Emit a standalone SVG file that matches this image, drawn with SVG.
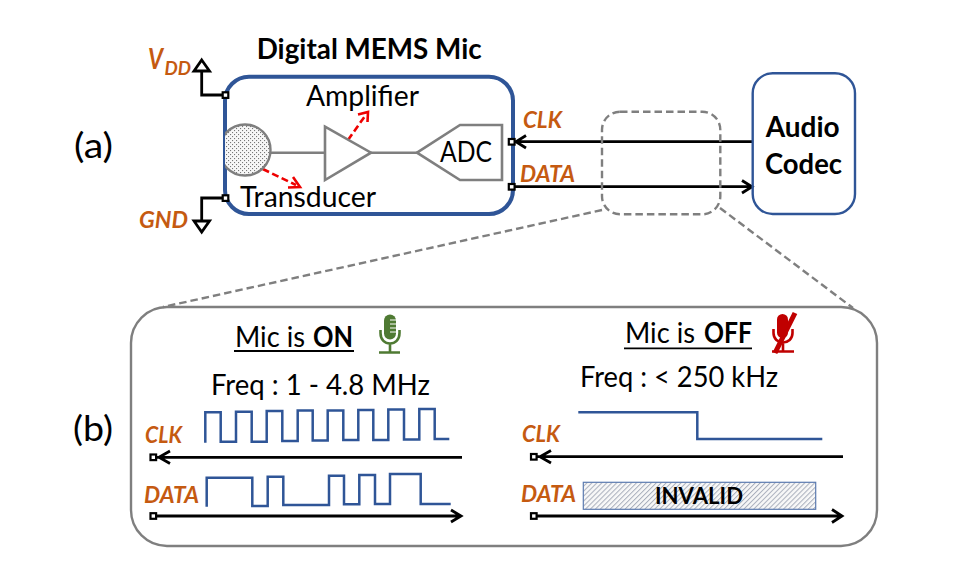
<svg xmlns="http://www.w3.org/2000/svg" width="971" height="565" viewBox="0 0 971 565">
<style>
text{font-family:"Lato","Open Sans","Liberation Sans",sans-serif;fill:#000}
.t{font-size:29px}
.b{font-weight:700}
.o{font-weight:700;font-style:italic;fill:#c55a11;font-size:23px}
.p{font-size:35px}
.g{fill:none;stroke:#7f7f7f;stroke-width:2.6}
.d{fill:none;stroke:#7f7f7f;stroke-width:2.4;stroke-dasharray:7.5 4}
.w{fill:none;stroke:#2f5597;stroke-width:2.5}
.k{fill:none;stroke:#000;stroke-width:2.8}
.r{fill:none;stroke:#ee0000;stroke-width:2.6;stroke-dasharray:7 3.5}
.rh{fill:none;stroke:#ee0000;stroke-width:2.6}
.q{fill:#fff;stroke:#000;stroke-width:2.2}
</style>
<defs>
<pattern id="dots" width="4" height="4" patternUnits="userSpaceOnUse"><rect width="4" height="4" fill="#f7f7f7"/><rect x="0" y="0" width="1.1" height="1.1" fill="#777"/><rect x="2" y="2" width="1.1" height="1.1" fill="#777"/></pattern>
<pattern id="hatch" width="3.5" height="3.5" patternUnits="userSpaceOnUse" patternTransform="rotate(45)"><rect width="3.5" height="3.5" fill="#f8f8f8"/><rect width="1" height="3.5" fill="#a9afbc"/></pattern>
<clipPath id="inbox"><rect x="225" y="76.7" width="288" height="137.3" rx="24"/></clipPath>
</defs>
<rect width="971" height="565" fill="#fff"/>

<g id="connectors">
<path class="d" d="M602 210L163 307"/>
<path class="d" d="M720 208L853 308"/>
<path class="k" d="M225 95H201.7V71"/>
<path class="k" d="M225 198H201.7V221"/>
<path class="k" d="M752 141.7H515M526 135.5L516 141.7L526 148"/>
<path class="k" d="M514 186.7H751M742 180.5L752 186.7L742 193"/>
<path class="g" d="M270.7 152.7H325"/>
<path class="g" d="M371 152.7H417"/>
<path class="r" d="M348 140L365 116"/>
<path class="rh" d="M358 114.5L368 112L367.5 122"/>
<path class="r" d="M262.7 169L296 185"/>
<path class="rh" d="M293 177L300 187L288 187.5"/>
</g>

<g id="vdd-symbol"><path class="k" d="M201.7 60L209.5 71H194Z"/></g>
<g id="gnd-symbol"><path class="k" d="M194 221H209.5L201.7 232Z"/></g>

<g id="mic-box"><rect x="225" y="76.7" width="288" height="137.3" rx="24" fill="none" stroke="#2f5597" stroke-width="4"/>
<text class="t b" x="256.7" y="59.3" textLength="225" lengthAdjust="spacingAndGlyphs">Digital MEMS Mic</text></g>
<g id="transducer"><circle cx="245" cy="150" r="25.5" fill="url(#dots)" stroke="#7f7f7f" stroke-width="2.4" clip-path="url(#inbox)"/>
<text class="t" x="240" y="207" textLength="136" lengthAdjust="spacingAndGlyphs">Transducer</text></g>
<g id="amplifier"><path class="g" d="M325 126.7L371 152.7L325 180Z"/>
<text class="t" x="306" y="106" textLength="113" lengthAdjust="spacingAndGlyphs">Amplifier</text></g>
<g id="adc"><path class="g" d="M417 152.7L460 125H502V180H460Z"/>
<text class="t" x="440" y="161.7" textLength="52" lengthAdjust="spacingAndGlyphs">ADC</text></g>

<g id="ports">
<rect class="q" x="222.7" y="92.3" width="5.6" height="5.6"/>
<rect class="q" x="222.7" y="195.3" width="5.6" height="5.6"/>
<rect class="q" x="508.8" y="139" width="5.8" height="5.6"/>
<rect class="q" x="508.8" y="184" width="5.8" height="5.6"/>
</g>

<g id="labels-a">
<text class="o" x="148" y="69" style="font-size:29px" textLength="15" lengthAdjust="spacingAndGlyphs">V</text>
<text class="o" x="164.5" y="75" style="font-size:19px" textLength="26.5" lengthAdjust="spacingAndGlyphs">DD</text>
<text class="o" x="139" y="228" textLength="49" lengthAdjust="spacingAndGlyphs">GND</text>
<text class="o" x="523" y="128" textLength="39" lengthAdjust="spacingAndGlyphs">CLK</text>
<text class="o" x="520" y="181.7" textLength="55" lengthAdjust="spacingAndGlyphs">DATA</text>
<text class="p" x="74" y="158" textLength="39" lengthAdjust="spacingAndGlyphs">(a)</text>
<text class="p" x="73" y="441" textLength="40" lengthAdjust="spacingAndGlyphs">(b)</text>
</g>

<g id="zoom-region"><rect class="d" x="602" y="111.7" width="118.3" height="102.6" rx="18"/></g>

<g id="audio-codec"><rect x="752.7" y="73.3" width="102.3" height="140.7" rx="20" fill="none" stroke="#2f5597" stroke-width="2.4"/>
<text class="t b" x="765.7" y="136.7" textLength="74" lengthAdjust="spacingAndGlyphs">Audio</text>
<text class="t b" x="765" y="174" textLength="77" lengthAdjust="spacingAndGlyphs">Codec</text></g>

<g id="panel"><rect x="131" y="307" width="746" height="239" rx="36" fill="none" stroke="#7f7f7f" stroke-width="2.4"/></g>

<g id="mic-on">
<text class="t" x="235" y="346.7" textLength="70" lengthAdjust="spacingAndGlyphs">Mic is</text>
<text class="t b" x="313" y="346.7" textLength="40" lengthAdjust="spacingAndGlyphs">ON</text>
<path d="M234 351H354" stroke="#000" stroke-width="1.8"/>
<text class="t" x="211" y="395" textLength="219" lengthAdjust="spacingAndGlyphs">Freq : 1 - 4.8 MHz</text>
<rect x="384" y="314.5" width="12" height="25" rx="6" fill="#4f7a33"/>
<path d="M390 320H396M390 324H396M390 328H396M390 332H396" stroke="#fff" stroke-width="1"/>
<path d="M380.5 330V333C380.5 340 385 343.5 390 343.5S399.5 340 399.5 333V330M390 343V352M379 352.5H400" fill="none" stroke="#4f7a33" stroke-width="2.6"/>
<path class="w" d="M205.3 442.7V412.3H220.7V441.7H236V411.7H251.7V441.7H266.7V411H282.3V441H297.7V410.5H312.7V440.5H327.7V410.5H343.3V440H358.3V410H373.3V440H388.3V409.5H404V439.5H419.3V409H434.7V439H449.3"/>
<path class="w" d="M206.7 506.7V477.7H252.3V506H267.7V476.7H283.3V505H329V475.7H344V504.3H359.3V475H375V504H390V474H420.7V504H450.7"/>
<text class="o" x="145" y="442.7" textLength="37" lengthAdjust="spacingAndGlyphs">CLK</text>
<text class="o" x="144" y="503" textLength="55" lengthAdjust="spacingAndGlyphs">DATA</text>
<path class="k" d="M462 457.3H157M170 451L159 457.3L170 463.5"/>
<path class="k" d="M155 516H460M451 510L461 516L451 522"/>
<rect class="q" x="150.5" y="454.5" width="5.6" height="5.6"/>
<rect class="q" x="150.5" y="513.2" width="5.6" height="5.6"/>
</g>

<g id="mic-off">
<text class="t" x="625" y="343.3" textLength="70" lengthAdjust="spacingAndGlyphs">Mic is</text>
<text class="t b" x="704" y="343.3" textLength="48" lengthAdjust="spacingAndGlyphs">OFF</text>
<path d="M624 348.3H752" stroke="#000" stroke-width="1.8"/>
<text class="t" x="580" y="387" textLength="198" lengthAdjust="spacingAndGlyphs">Freq : &lt; 250 kHz</text>
<rect x="777" y="314" width="11" height="24" rx="5.5" fill="#c00000"/>
<path d="M773.5 329V333C773.5 339 778 342.5 783 342.5S792.5 339 792.5 333V329M783 342V351M772 351.5H794" fill="none" stroke="#c00000" stroke-width="2.6"/>
<path d="M795 313L775 353" stroke="#c00000" stroke-width="5"/>
<path class="w" d="M578.3 412.3H697.3V439H822.3"/>
<rect x="583.3" y="482.3" width="232.4" height="27" fill="url(#hatch)" stroke="#5b7bb0" stroke-width="1.2"/>
<text x="655" y="504" font-size="22" class="b" textLength="88" lengthAdjust="spacingAndGlyphs">INVALID</text>
<text class="o" x="522" y="441.7" textLength="38" lengthAdjust="spacingAndGlyphs">CLK</text>
<text class="o" x="521" y="502" textLength="55" lengthAdjust="spacingAndGlyphs">DATA</text>
<path class="k" d="M843 456.7H537M551 450.5L540 456.7L551 463"/>
<path class="k" d="M536 516H842M832 509.5L842 516L832 522.5"/>
<rect class="q" x="531" y="454" width="5.6" height="5.6"/>
<rect class="q" x="531" y="513.2" width="5.6" height="5.6"/>
</g>
</svg>
